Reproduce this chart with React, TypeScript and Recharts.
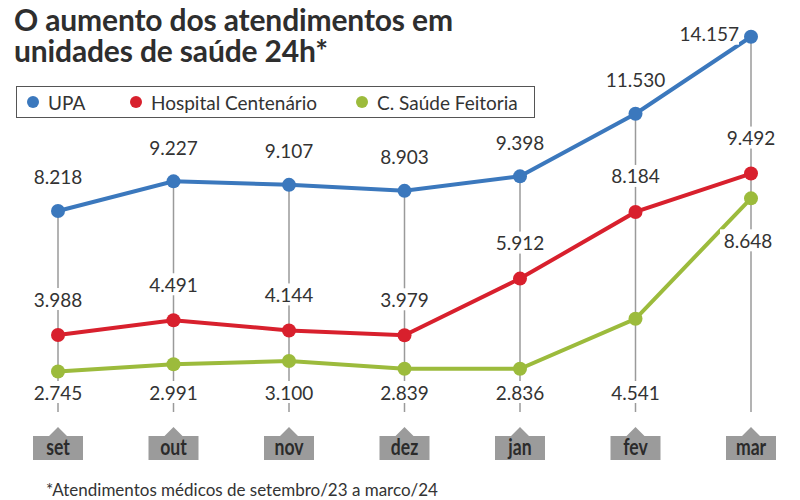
import React from 'react';
import { LineChart, Line, XAxis, YAxis, Legend, LabelList } from 'recharts';

// Atendimentos por mês (set/23 a mar/24)
const months = ['set', 'out', 'nov', 'dez', 'jan', 'fev', 'mar'];
const upa = [8218, 9227, 9107, 8903, 9398, 11530, 14157];
const hospitalCentenario = [3988, 4491, 4144, 3979, 5912, 8184, 9492];
const saudeFeitoria = [2745, 2991, 3100, 2839, 2836, 4541, 8648];

const seriesNames = ['UPA', 'Hospital Centenário', 'C. Saúde Feitoria'];

const data = months.map((m, i) => ({
  month: m,
  upa: upa[i],
  hospital: hospitalCentenario[i],
  feitoria: saudeFeitoria[i],
}));

const BLUE = '#3b78bd';
const RED = '#d8202d';
const GREEN = '#9cbb3c';
const GUIDE = '#9a9a9a';
const TEXT = '#333333';

const GUIDE_BOTTOM = 412; // where the vertical guides stop
const GREEN_ROW_Y = 392; // the bottom row of values

const fmt = (n: number) => String(n).replace(/\B(?=(\d{3})+(?!\d))/g, '.');

const ValueText = ({ x, y, value, anchor = 'middle' }: any) => {
  const w = 56;
  const rx = anchor === 'end' ? x - w : x - w / 2;
  return (
    <g>
      <rect x={rx} y={y - 11} width={w} height={22} fill="#fff" />
      <text
        x={x}
        y={y}
        textAnchor={anchor}
        dominantBaseline="central"
        fill={TEXT}
        fontSize={19}
        fontFamily="Lato, sans-serif"
      >
        {fmt(value)}
      </text>
    </g>
  );
};

const upaLabel = (props: any) => {
  const { x, y, value, index } = props;
  if (index === months.length - 1) {
    return <ValueText x={x - 12} y={y - 3} value={value} anchor="end" />;
  }
  return <ValueText x={x} y={y - 34} value={value} />;
};

const hospitalLabel = (props: any) => {
  const { x, y, value } = props;
  return <ValueText x={x} y={y - 36} value={value} />;
};

const feitoriaLabel = (props: any) => {
  const { x, y, value, index } = props;
  if (index === months.length - 1) {
    return <ValueText x={x - 3} y={y + 42} value={value} />;
  }
  return <ValueText x={x} y={GREEN_ROW_Y} value={value} />;
};

// UPA dots also carry the gray guide line down to the month box
const upaDot = (props: any) => {
  const { cx, cy, index } = props;
  return (
    <g key={`upa-dot-${index}`}>
      <line x1={cx} y1={cy} x2={cx} y2={GUIDE_BOTTOM} stroke={GUIDE} strokeWidth={1.5} />
      <circle cx={cx} cy={cy} r={7} fill={BLUE} />
    </g>
  );
};

const MonthTick = ({ x, y, payload }: any) => {
  const top = y - 16;
  const half = 25;
  const d = `M${x - half},${top} L${x - 9},${top} L${x},${top - 9} L${x + 9},${top} L${x + half},${top} L${x + half},${top + 24} L${x - half},${top + 24} Z`;
  return (
    <g>
      <path d={d} fill="#9b9b9b" />
      {/* condensed look: squeeze the glyphs horizontally */}
      <text
        transform={`translate(${x},${top + 19}) scale(0.8,1)`}
        x={0}
        y={0}
        textAnchor="middle"
        fill="#2b2b2b"
        fontSize={22}
        fontWeight="bold"
        fontFamily="Lato, sans-serif"
      >
        {payload.value}
      </text>
    </g>
  );
};

const legendLeft = [10, 113, 339];

const LegendBox = ({ payload }: any) => {
  const items = seriesNames
    .map((n) => (payload || []).find((p: any) => p.value === n))
    .filter(Boolean);
  return (
    <div
      style={{
        position: 'relative',
        border: '1.5px solid #555',
        height: 30,
        width: 517,
        fontFamily: 'Lato, sans-serif',
        fontSize: 19,
        color: TEXT,
        boxSizing: 'content-box',
      }}
    >
      {items.map((p: any, i: number) => (
        <div
          key={p.value}
          style={{
            position: 'absolute',
            left: legendLeft[i],
            top: 0,
            height: 30,
            display: 'flex',
            alignItems: 'center',
            whiteSpace: 'nowrap',
          }}
        >
          <span
            style={{
              width: 12,
              height: 12,
              borderRadius: 6,
              background: p.color,
              display: 'inline-block',
              marginRight: 9,
            }}
          />
          {p.value}
        </div>
      ))}
    </div>
  );
};

export default function App() {
  return (
    <div
      style={{
        position: 'absolute',
        left: 0,
        top: 0,
        width: 800,
        height: 500,
        background: '#fff',
        overflow: 'hidden',
      }}
    >
      <div
        style={{
          position: 'absolute',
          left: 14,
          top: 4,
          fontFamily: 'Lato, sans-serif',
          fontWeight: 'bold',
          fontSize: 30,
          lineHeight: '31px',
          color: '#2e2e2e',
          letterSpacing: -0.15,
        }}
      >
        O aumento dos atendimentos em
        <br />
        unidades de saúde 24h*
      </div>
      <LineChart width={800} height={500} data={data} margin={{ top: 12, right: 0, bottom: 0, left: 0 }}>
        <XAxis
          dataKey="month"
          axisLine={false}
          tickLine={false}
          tickSize={0}
          tickMargin={0}
          height={48}
          padding={{ left: 58, right: 49 }}
          tick={<MonthTick />}
          interval={0}
        />
        <YAxis hide domain={[0, 15000]} />
        <Legend
          layout="horizontal"
          verticalAlign="middle"
          align="center"
          content={<LegendBox />}
          wrapperStyle={{ position: 'absolute', top: 86, left: 16, width: 'auto' }}
        />
        <Line
          dataKey="upa"
          name={seriesNames[0]}
          stroke={BLUE}
          strokeWidth={4}
          dot={upaDot}
          activeDot={false}
          isAnimationActive={false}
        >
          <LabelList dataKey="upa" content={upaLabel} />
        </Line>
        <Line
          dataKey="hospital"
          name={seriesNames[1]}
          stroke={RED}
          strokeWidth={4}
          dot={{ r: 7, fill: RED, stroke: 'none' }}
          activeDot={false}
          isAnimationActive={false}
        >
          <LabelList dataKey="hospital" content={hospitalLabel} />
        </Line>
        <Line
          dataKey="feitoria"
          name={seriesNames[2]}
          stroke={GREEN}
          strokeWidth={4}
          dot={{ r: 7, fill: GREEN, stroke: 'none' }}
          activeDot={false}
          isAnimationActive={false}
        >
          <LabelList dataKey="feitoria" content={feitoriaLabel} />
        </Line>
      </LineChart>
      <div
        style={{
          position: 'absolute',
          left: 46,
          top: 480,
          fontFamily: 'Lato, sans-serif',
          fontSize: 17,
          lineHeight: '20px',
          color: TEXT,
        }}
      >
        *Atendimentos médicos de setembro/23 a marco/24
      </div>
    </div>
  );
}
